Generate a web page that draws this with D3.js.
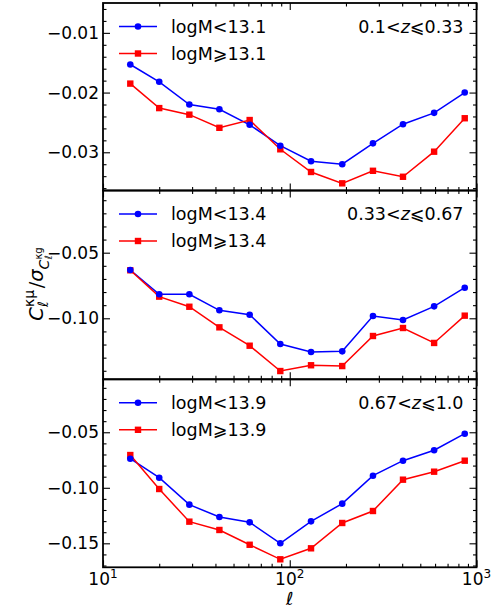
<!DOCTYPE html>
<html>
<head>
<meta charset="utf-8">
<script src="https://cdn.jsdelivr.net/npm/d3@7"></script>
<style>
  body { margin: 0; background: #fff; }
  svg text { font-family: "DejaVu Sans", sans-serif; fill: #000; }
</style>
</head>
<body>
<div id="chart"></div>
<script>
// multipole bins
const ells = [14, 20, 29, 42, 61, 89, 130, 191, 279, 404, 593, 865];

// panel 1 : 0.1<z<=0.33
const lowM1  = [-0.0153, -0.0182, -0.0220, -0.0228, -0.0254, -0.0289, -0.0315, -0.0320, -0.0285, -0.0253, -0.0234, -0.0200];
const highM1 = [-0.0185, -0.0226, -0.0237, -0.0259, -0.0246, -0.0295, -0.0333, -0.0352, -0.0331, -0.0341, -0.0299, -0.0243];
// panel 2 : 0.33<z<=0.67
const lowM2  = [-0.0632, -0.0817, -0.0817, -0.0939, -0.0973, -0.1196, -0.1257, -0.1252, -0.0982, -0.1013, -0.0909, -0.0767];
const highM2 = [-0.0634, -0.0835, -0.0912, -0.1069, -0.1209, -0.1402, -0.1358, -0.1364, -0.1135, -0.1074, -0.1188, -0.0980];
// panel 3 : 0.67<z<=1.0
const lowM3  = [-0.0738, -0.0909, -0.1152, -0.1263, -0.1311, -0.1500, -0.1302, -0.1143, -0.0891, -0.0756, -0.0662, -0.0513];
const highM3 = [-0.0705, -0.1011, -0.1305, -0.1380, -0.1513, -0.1644, -0.1545, -0.1317, -0.1209, -0.0927, -0.0855, -0.0756];

const lowLabels  = ["logM<13.1", "logM<13.4", "logM<13.9"];
const highLabels = ["logM\u2A7E13.1", "logM\u2A7E13.4", "logM\u2A7E13.9"];
const zLo = ["0.1", "0.33", "0.67"];
const zHi = ["0.33", "0.67", "1.0"];

const yDomains = [[-0.0364, -0.0050], [-0.1465, -0.0026], [-0.1716, -0.0023]];
const yMajor = [[-0.03, -0.02, -0.01], [-0.10, -0.05], [-0.15, -0.10, -0.05]];
const xMajor = [10, 100, 1000];

const width = 502, height = 610;
const left = 103, right = 476.5;
const panelEdges = [3, 190.5, 379.3, 567.3];
const blue = "#0000ff", red = "#ff0000";

const svg = d3.select("#chart").append("svg")
    .attr("width", width).attr("height", height);

const x = d3.scaleLog().domain([10, 1000]).range([left, right]);
const xMinor = [];
[10, 100].forEach(d => { for (let k = 2; k < 10; k++) xMinor.push(d * k); });

const panels = [
  {low: lowM1, high: highM1},
  {low: lowM2, high: highM2},
  {low: lowM3, high: highM3}
];

panels.forEach((p, i) => {
  const top = panelEdges[i], bot = panelEdges[i + 1];
  const y = d3.scaleLinear().domain(yDomains[i]).range([bot, top]);
  const step = i === 0 ? 0.002 : 0.01;
  const yMinor = d3.range(Math.ceil(yDomains[i][0] / step) * step, yDomains[i][1], step)
      .filter(v => !yMajor[i].some(m => Math.abs(m - v) < 1e-9));

  const g = svg.append("g");

  // ticks, all pointing inward
  const addAxis = (axisFn, scale, vals, size, tr, labels) => {
    const a = axisFn(scale).tickValues(vals).tickSizeInner(-size).tickSizeOuter(0)
        .tickPadding(4)
        .tickFormat(labels ? d3.format(".2f") : "");
    const ax = g.append("g").attr("transform", tr).call(a);
    ax.select(".domain").remove();
    ax.selectAll("line").attr("stroke", "#000").attr("stroke-width", 1.1);
    ax.selectAll("text").style("font-size", "17px");
    return ax;
  };
  addAxis(d3.axisLeft, y, yMajor[i], 7, `translate(${left},0)`, true);
  addAxis(d3.axisLeft, y, yMinor, 3.5, `translate(${left},0)`, false);
  addAxis(d3.axisRight, y, yMajor[i], 7, `translate(${right},0)`, false);
  addAxis(d3.axisRight, y, yMinor, 3.5, `translate(${right},0)`, false);
  addAxis(d3.axisBottom, x, xMajor, 7, `translate(0,${bot})`, false);
  addAxis(d3.axisBottom, x, xMinor, 3.5, `translate(0,${bot})`, false);
  addAxis(d3.axisTop, x, xMajor, 7, `translate(0,${top})`, false);
  addAxis(d3.axisTop, x, xMinor, 3.5, `translate(0,${top})`, false);

  // frame
  g.append("rect")
    .attr("x", left).attr("y", top)
    .attr("width", right - left).attr("height", bot - top)
    .attr("fill", "none").attr("stroke", "#000").attr("stroke-width", 1.8);

  const line = d3.line().x((d, j) => x(ells[j])).y(d => y(d));

  // low-mass series (blue circles)
  g.append("path").datum(p.low)
    .attr("d", line).attr("fill", "none").attr("stroke", blue).attr("stroke-width", 1.5);
  // high-mass series (red squares)
  g.append("path").datum(p.high)
    .attr("d", line).attr("fill", "none").attr("stroke", red).attr("stroke-width", 1.5);

  g.selectAll(".sq").data(p.high).enter().append("rect")
    .attr("x", (d, j) => x(ells[j]) - 3.2).attr("y", d => y(d) - 3.2)
    .attr("width", 6.4).attr("height", 6.4).attr("fill", red);
  g.selectAll(".dot").data(p.low).enter().append("circle")
    .attr("cx", (d, j) => x(ells[j])).attr("cy", d => y(d))
    .attr("r", 3.3).attr("fill", blue);

  // legend
  const ly1 = top + 23.5, ly2 = top + 50.5;
  g.append("line").attr("x1", 119).attr("x2", 157).attr("y1", ly1).attr("y2", ly1)
    .attr("stroke", blue).attr("stroke-width", 1.5);
  g.append("circle").attr("cx", 138).attr("cy", ly1).attr("r", 3.3).attr("fill", blue);
  g.append("line").attr("x1", 119).attr("x2", 157).attr("y1", ly2).attr("y2", ly2)
    .attr("stroke", red).attr("stroke-width", 1.5);
  g.append("rect").attr("x", 138 - 3.2).attr("y", ly2 - 3.2).attr("width", 6.4).attr("height", 6.4)
    .attr("fill", red);
  g.append("text").attr("x", 171).attr("y", ly1).attr("dy", "0.36em")
    .style("font-size", "17.5px").text(lowLabels[i]);
  g.append("text").attr("x", 171).attr("y", ly2).attr("dy", "0.36em")
    .style("font-size", "17.5px").text(highLabels[i]);

  // redshift bin annotation
  const zt = g.append("text").attr("x", 463.5).attr("y", ly1).attr("dy", "0.36em")
    .attr("text-anchor", "end").style("font-size", "17.5px");
  zt.append("tspan").text(zLo[i] + "<");
  zt.append("tspan").style("font-style", "italic").text("z");
  zt.append("tspan").text("\u2A7D" + zHi[i]);
});

// x tick labels on bottom panel
const bottom = panelEdges[3];
xMajor.forEach(v => {
  const t = svg.append("text").attr("x", x(v)).attr("y", bottom + 18)
    .attr("text-anchor", "middle").style("font-size", "17px");
  t.append("tspan").text("10");
  t.append("tspan").attr("dy", -7).style("font-size", "12px").text(Math.round(Math.log10(v)));
});

// x label
svg.append("text").attr("x", (left + right) / 2).attr("y", 605)
  .attr("text-anchor", "middle").style("font-size", "18px").style("font-style", "italic")
  .text("\u2113");

// y label  C_l^{kappa mu} / sigma_{C_l^{kappa g}}
const yl = svg.append("g");
let cx = 0;
const piece = (txt, size, dy, italic) => {
  const t = yl.append("text").attr("x", cx).attr("y", dy)
    .style("font-size", size + "px").style("font-style", italic ? "italic" : "normal").text(txt);
  return t;
};
const adv = t => t.node().getComputedTextLength();
let t = piece("C", 19.5, 0, true); cx += adv(t);
let a = piece("\u03BA\u03BC", 14, -9, false), b = piece("\u2113", 14, 4.5, true);
cx += Math.max(adv(a), adv(b)) + 1.5;
t = piece("/", 19.5, 0, false); cx += adv(t);
t = piece("\u03C3", 19.5, 0, true); cx += adv(t);
t = piece("C", 14, 6, true); cx += adv(t);
a = piece("\u03BA\u0067", 10, -1, false); b = piece("\u2113", 10, 9, true);
cx += Math.max(adv(a), adv(b));
yl.attr("transform", `translate(43,${284 + cx / 2}) rotate(-90)`);
</script>
</body>
</html>
